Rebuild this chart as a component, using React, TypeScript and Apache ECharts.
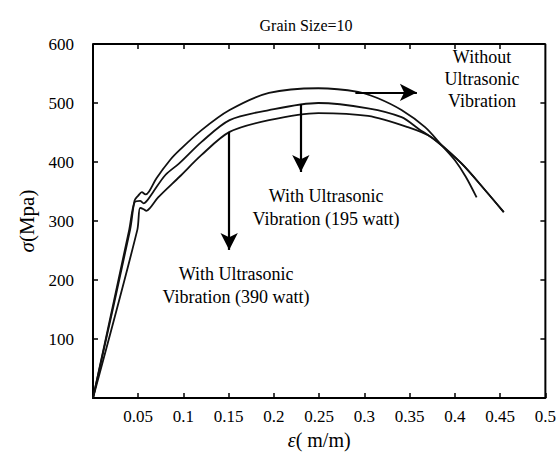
import React, { useEffect, useRef } from "react";
import * as echarts from "echarts";

const title = "Grain Size=10";
const xTicks = [0, 0.05, 0.1, 0.15, 0.2, 0.25, 0.3, 0.35, 0.4, 0.45, 0.5];
const yTicks = [0, 100, 200, 300, 400, 500, 600];

const withoutVibration: [number, number][] = [
  [0, 0], [0.041, 285], [0.046, 335], [0.05, 343], [0.054, 349], [0.058, 345], [0.062, 350],
  [0.07, 372], [0.085, 403], [0.0956, 420], [0.12, 454], [0.151, 488], [0.1945, 517],
  [0.249, 525], [0.293, 519], [0.315, 508], [0.341, 488], [0.367, 459], [0.385, 429],
  [0.4, 403], [0.412, 375], [0.424, 340],
];
const vibration195: [number, number][] = [
  [0, 0], [0.04, 285], [0.046, 332], [0.052, 334], [0.056, 330], [0.06, 335], [0.066, 348],
  [0.08, 378], [0.0956, 398], [0.12, 434], [0.151, 471], [0.1945, 488], [0.249, 500],
  [0.304, 491], [0.341, 476], [0.36, 456], [0.378, 437], [0.407, 398], [0.433, 353], [0.454, 315],
];
const vibration390: [number, number][] = [
  [0, 0], [0.049, 285], [0.052, 322], [0.056, 320], [0.059, 317], [0.063, 322], [0.072, 340],
  [0.0956, 375], [0.12, 412], [0.151, 451], [0.1945, 471], [0.249, 483], [0.304, 478],
  [0.348, 459], [0.374, 442], [0.407, 398], [0.433, 353], [0.454, 315],
];

// annotation arrows (data coords): [x1, y1, x2, y2]
const arrowWithout = [0.29, 518, 0.358, 518];
const arrow195 = [0.2297, 498, 0.2297, 383];
const arrow390 = [0.1505, 451, 0.1505, 251];

const labelWithout = "Without\nUltrasonic\nVibration";
const label195 = "With Ultrasonic\nVibration (195 watt)";
const label390 = "With Ultrasonic\nVibration (390 watt)";

const FONT = "Liberation Serif";

export default function App() {
  const ref = useRef<HTMLDivElement>(null);
  useEffect(() => {
    if (!ref.current) return;
    const chart = echarts.init(ref.current, null, { renderer: "svg" });
    const lineStyle = { color: "#111", width: 1.8 };
    const arrowLine = (a: number[]) => ({
      silent: true,
      symbol: ["none", "arrow"],
      symbolSize: [13, 17],
      label: { show: false },
      lineStyle: { color: "#000", width: 2.2, type: "solid" },
      data: [[{ coord: [a[0], a[1]] }, { coord: [a[2], a[3]] }]],
    });
    const axisCommon = {
      type: "value",
      axisLine: { show: true, onZero: false, lineStyle: { color: "#000", width: 2 } },
      axisTick: { show: true, inside: true, length: 5, lineStyle: { color: "#000", width: 1.5 } },
      splitLine: { show: false },
    };
    const textEl = (text: string, x: number, y: number, lh: number) => ({
      type: "text",
      x,
      y,
      style: {
        text,
        fontFamily: FONT,
        fontSize: 18,
        lineHeight: lh,
        fill: "#000",
        align: "center",
        verticalAlign: "top",
      },
    });
    const xMin = xTicks[0], xMax = xTicks[xTicks.length - 1];
    const yMin = yTicks[0], yMax = yTicks[yTicks.length - 1];
    // inward tick lengths in data units (≈5 px)
    const dxTick = ((xMax - xMin) / 455) * 5;
    const dyTick = ((yMax - yMin) / 354) * 5;
    const tickLines: any[] = [];
    xTicks.slice(1, -1).forEach((t) =>
      tickLines.push([{ coord: [t, yMax] }, { coord: [t, yMax - dyTick] }])
    );
    yTicks.slice(1, -1).forEach((t) =>
      tickLines.push([{ coord: [xMax, t] }, { coord: [xMax - dxTick, t] }])
    );

    chart.setOption({
      animation: false,
      backgroundColor: "#fff",
      textStyle: { fontFamily: FONT },
      title: {
        text: title,
        left: 301,
        top: 12,
        textAlign: "center",
        textStyle: { fontFamily: FONT, fontSize: 16, fontWeight: "normal", color: "#000" },
      },
      grid: { left: 93, right: 11, top: 44, bottom: 57 },
      xAxis: {
        ...axisCommon,
        min: xMin,
        max: xMax,
        interval: 0.05,
        position: "bottom",
        name: "{i|ε}( m/m)",
        nameLocation: "middle",
        nameGap: 30,
        nameTextStyle: {
          fontFamily: FONT, fontSize: 20, color: "#000",
          rich: { i: { fontFamily: FONT, fontSize: 20, fontStyle: "italic", color: "#000" } },
        },
        axisLabel: {
          margin: 10,
          fontFamily: FONT,
          fontSize: 17,
          color: "#000",
          formatter: (v: number) => {
            const t = xTicks.find((k) => Math.abs(k - v) < 1e-6);
            return t === undefined || t === 0 ? "" : String(t);
          },
        },
      },
      yAxis: {
        ...axisCommon,
        min: yMin,
        max: yMax,
        interval: 100,
        position: "left",
        name: "{i|σ}(Mpa)",
        nameLocation: "middle",
        nameGap: 56,
        nameTextStyle: {
          fontFamily: FONT, fontSize: 21, color: "#000",
          rich: { i: { fontFamily: FONT, fontSize: 21, fontStyle: "italic", color: "#000" } },
        },
        axisLabel: {
          margin: 19,
          fontFamily: FONT,
          fontSize: 17,
          color: "#000",
          formatter: (v: number) => {
            const t = yTicks.find((k) => Math.abs(k - v) < 1e-6);
            return t === undefined || t === 0 ? "" : String(t);
          },
        },
      },
      series: [
        {
          name: "Without Ultrasonic Vibration",
          type: "line",
          data: withoutVibration,
          smooth: 0.3,
          showSymbol: false,
          lineStyle,
          markLine: arrowLine(arrowWithout),
        },
        {
          name: "With Ultrasonic Vibration (195 watt)",
          type: "line",
          data: vibration195,
          smooth: 0.3,
          showSymbol: false,
          lineStyle,
          markLine: arrowLine(arrow195),
        },
        {
          name: "With Ultrasonic Vibration (390 watt)",
          type: "line",
          data: vibration390,
          smooth: 0.3,
          showSymbol: false,
          lineStyle,
          markLine: arrowLine(arrow390),
        },
        {
          name: "frame",
          type: "line",
          clip: false,
          silent: true,
          showSymbol: false,
          data: [[xMin, yMax], [xMax, yMax], [xMax, yMin]],
          lineStyle: { color: "#000", width: 2 },
          markLine: {
            silent: true,
            symbol: ["none", "none"],
            label: { show: false },
            lineStyle: { color: "#000", width: 1.5, type: "solid" },
            data: tickLines,
          },
        },
      ],
      graphic: [
        textEl(labelWithout, 482, 46, 22),
        textEl(label195, 326, 184, 23),
        textEl(label390, 236, 262, 23),
      ],
    });
    return () => chart.dispose();
  }, []);
  return <div ref={ref} style={{ width: 559, height: 455, position: "absolute", left: 0, top: 0 }} />;
}
